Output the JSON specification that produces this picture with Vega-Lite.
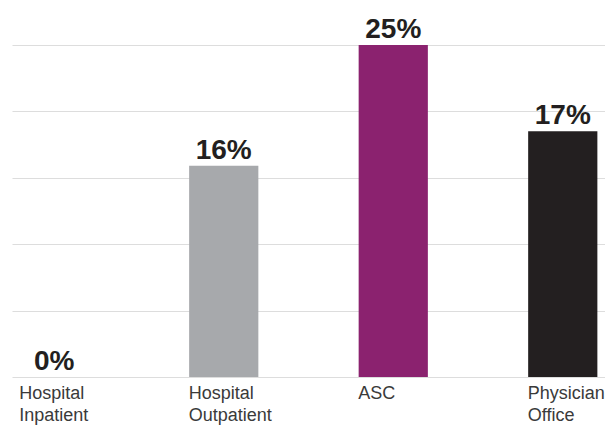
{
  "$schema": "https://vega.github.io/schema/vega-lite/v6.json",
  "autosize": {"type": "none"},
  "padding": {"left": 12, "top": 45, "right": 0, "bottom": 49},
  "width": 593,
  "height": 332,
  "background": "white",
  "data": {"values": [
    {"setting": "Hospital Inpatient", "value": 0, "label": "0%", "color": "#a7a9ac"},
    {"setting": "Hospital Outpatient", "value": 15.9, "label": "16%", "color": "#a7a9ac"},
    {"setting": "ASC", "value": 25, "label": "25%", "color": "#8b226f"},
    {"setting": "Physician Office", "value": 18.5, "label": "17%", "color": "#231f20"}
  ]},
  "encoding": {
    "x": {
      "field": "setting", "type": "nominal", "sort": null,
      "scale": {"paddingInner": 0.5917, "paddingOuter": 0.045},
      "axis": {
        "title": null, "domain": false, "ticks": false, "grid": false,
        "labelAngle": 0, "labelAlign": "left", "labelOffset": -35,
        "labelBaseline": "top", "labelPadding": 7,
        "labelFont": "Liberation Sans", "labelFontSize": 18, "labelColor": "#3a3a3a",
        "labelLineHeight": 22,
        "labelExpr": "split(datum.label, ' ')"
      }
    },
    "y": {
      "field": "value", "type": "quantitative",
      "scale": {"domain": [0, 25], "nice": false},
      "axis": {
        "title": null, "labels": false, "ticks": false, "domain": false,
        "values": [0, 5, 10, 15, 20, 25],
        "grid": true, "gridColor": "#dddddd", "gridWidth": 1
      }
    }
  },
  "layer": [
    {
      "mark": {"type": "bar"},
      "encoding": {"color": {"field": "color", "type": "nominal", "scale": null}}
    },
    {
      "mark": {"type": "text", "baseline": "alphabetic", "dy": -7, "font": "Liberation Sans", "fontWeight": "bold", "fontSize": 28, "color": "#231f20"},
      "encoding": {"text": {"field": "label"}}
    }
  ],
  "config": {"view": {"stroke": null}}
}
